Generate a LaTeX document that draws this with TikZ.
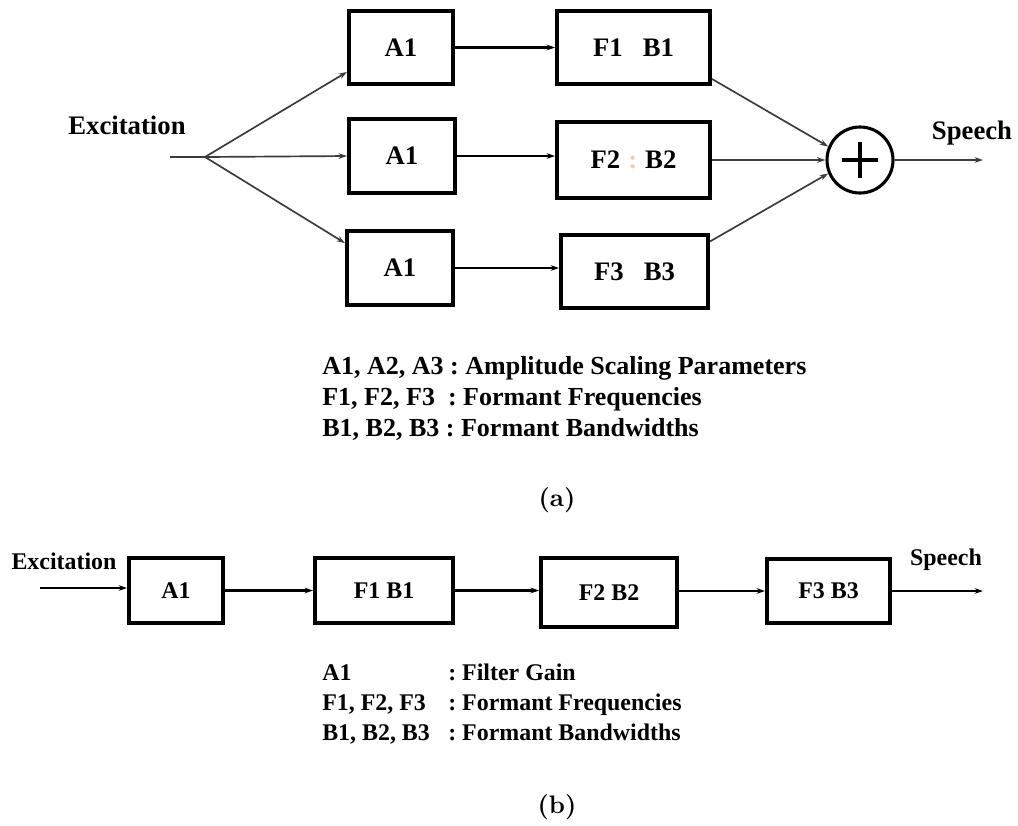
\documentclass[tikz,border=0pt]{standalone}
\usepackage{fontspec}
\newfontfamily\tnr{Liberation Serif}
\newfontfamily\lmbx[Extension=.otf]{lmroman10-bold}
\usetikzlibrary{arrows.meta}
\definecolor{linegray}{RGB}{60,60,60}
\definecolor{dotorange}{RGB}{245,205,170}
\frenchspacing

\begin{document}
\begin{tikzpicture}[x=0.025cm,y=-0.025cm,
  blk/.style={draw,line width=2.8pt,inner sep=0pt,font=\tnr\bfseries\fontsize{19}{22}\selectfont},
  blkb/.style={blk,font=\tnr\bfseries\fontsize{17}{20}\selectfont},
  conn/.style={linegray,line width=1.2pt,-{Stealth[length=6pt,width=4pt]}},
  link/.style={black,line width=1.5pt,-{Stealth[length=6pt,width=4pt]}},
  lbl/.style={inner sep=0pt,font=\tnr\bfseries\fontsize{19}{22}\selectfont},
  lblb/.style={inner sep=0pt,font=\tnr\bfseries\fontsize{17}{20}\selectfont},
  leg/.style={inner sep=0pt,anchor=base west,font=\tnr\bfseries\fontsize{18.5}{22}\selectfont},
  legb/.style={inner sep=0pt,anchor=base west,font=\tnr\bfseries\fontsize{17}{20}\selectfont},
  subcap/.style={inner sep=0pt,font=\lmbx\fontsize{18}{22}\selectfont}]
\useasboundingbox (0,0) rectangle (1018,825);
% (a) parallel formant synthesiser
\node[blk,minimum width=2.6cm,minimum height=1.825cm] (a1) at (401,47.5) {A1};
\node[blk,minimum width=2.65cm,minimum height=1.85cm] (a2) at (402,156) {A1};
\node[blk,minimum width=2.65cm,minimum height=1.85cm] (a3) at (400,268) {A1};
\node[blk,minimum width=3.825cm,minimum height=1.825cm] (f1) at (633.5,47.5) {F1\hspace{0.75em}B1};
\node[blk,minimum width=3.825cm,minimum height=1.9cm] (f2) at (633.5,160) {F2\hspace{0.3em}{\color{dotorange}:}\hspace{0.3em}B2};
\node[blk,minimum width=3.675cm,minimum height=1.825cm] (f3) at (634.5,271.5) {F3\hspace{0.75em}B3};
\node[draw,circle,line width=2.2pt,minimum size=1.65cm,inner sep=0pt] (sum) at (860,160) {};
\draw[line width=2.2pt] ([xshift=-13pt]sum.center) -- ([xshift=13pt]sum.center);
\draw[line width=2.2pt] ([yshift=-13pt]sum.center) -- ([yshift=13pt]sum.center);
\node[lbl] (exc) at (127,125) {Excitation};
\node[lbl] (sp) at (972,133) {Speech};
\coordinate (in) at (170,157);
\coordinate (fork) at (205,157);
\coordinate (out) at (983,160);
\draw[conn,-] (in) -- (fork);
\draw[conn] (fork) -- ([yshift=10pt]a1.south west);
\draw[conn] (fork) -- (a2.west);
\draw[conn] (fork) -- ([yshift=-10pt]a3.north west);
\draw[link] (a1) -- (f1);
\draw[link] (a2) -- (a2 -| f2.west);
\draw[link] (a3) -- (a3 -| f3.west);
\draw[conn] ([yshift=5pt]f1.south east) -- (sum.157);
\draw[conn] (f2) -- (sum);
\draw[conn] ([yshift=-6pt]f3.north east) -- (sum.203);
\draw[conn] (sum) -- (out);
\node[leg] (la1) at (322,374) {A1, A2, A3 : Amplitude Scaling Parameters};
\node[leg] (la2) at (322,405) {F1, F2, F3\ \ : Formant Frequencies};
\node[leg] (la3) at (322,436) {B1, B2, B3 : Formant Bandwidths};
\node[subcap] (capa) at (557,500) {(a)};
% (b) cascade formant synthesiser
\node[blkb,minimum width=2.35cm,minimum height=1.625cm] (ba1) at (176,590.5) {A1};
\node[blkb,minimum width=3.45cm,minimum height=1.625cm] (bf1) at (384,590.5) {F1 B1};
\node[blkb,minimum width=3.4cm,minimum height=1.725cm] (bf2) at (609,592.5) {F2 B2};
\node[blkb,minimum width=3.075cm,minimum height=1.6cm] (bf3) at (828.5,591) {F3 B3};
\node[lblb] (bexc) at (64,561) {Excitation};
\node[lblb] (bsp) at (946,560) {Speech};
\coordinate (bin) at (40,588);
\coordinate (bout) at (983,588);
\draw[link] (bin) -- (bin -| ba1.west);
\draw[link] (ba1) -- (ba1 -| bf1.west);
\draw[link] (bf1) -- (bf1 -| bf2.west);
\draw[link] (bf3.west -| bf2.east) -- (bf3.west);
\draw[link] (bf3) -- (bf3 -| bout);
\node[legb] (lb1) at (322,680) {A1};
\node[legb] (lb1r) at (448,680) {: Filter Gain};
\node[legb] (lb2) at (322,710) {F1, F2, F3};
\node[legb] (lb2r) at (448,710) {: Formant Frequencies};
\node[legb] (lb3) at (322,740) {B1, B2, B3};
\node[legb] (lb3r) at (448,740) {: Formant Bandwidths};
\node[subcap] (capb) at (557,807) {(b)};
\end{tikzpicture}
\end{document}
